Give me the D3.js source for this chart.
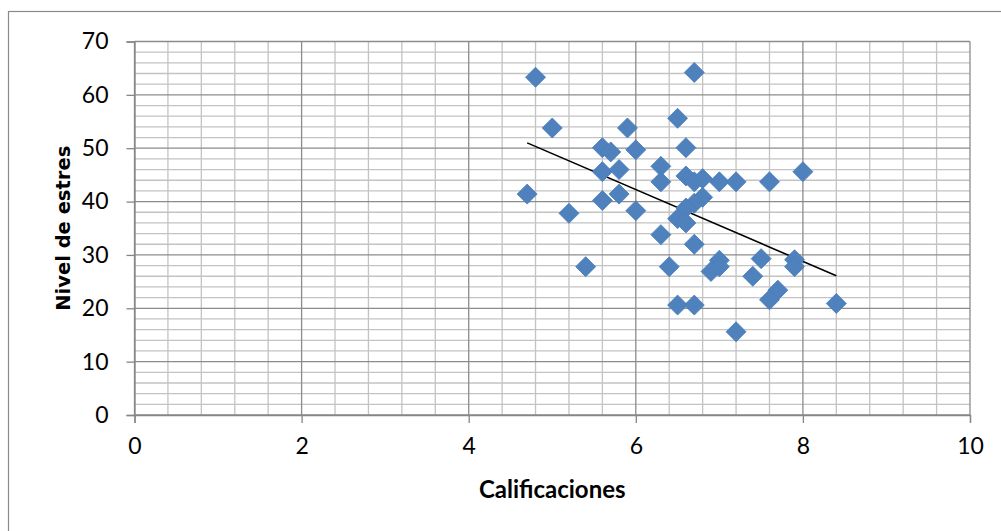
<!DOCTYPE html>
<html>
<head>
<meta charset="utf-8">
<script src="https://cdn.jsdelivr.net/npm/d3@7/dist/d3.min.js"></script>
<style>
  html, body { margin: 0; padding: 0; background: #ffffff; }
  svg { display: block; }
</style>
</head>
<body>
<svg id="chart" width="1001" height="531"></svg>
<script>
// Calificaciones (x) and nivel de estrés (y) for each student
const calificaciones = [
  4.8, 6.7, 5.0, 5.9, 6.5, 5.6, 5.7, 6.0, 6.6, 4.7,
  5.6, 5.8, 6.3, 6.3, 6.6, 6.7, 6.8, 7.0, 7.2, 7.6,
  8.0, 5.6, 5.8, 6.0, 5.2, 6.8, 6.7, 6.6, 6.5, 6.6,
  6.3, 6.7, 5.4, 6.4, 7.0, 7.0, 6.9, 7.4, 7.5, 7.9,
  7.9, 7.7, 7.6, 6.5, 6.7, 8.4, 7.2
];
const nivelEstres = [
  63.3, 64.2, 53.8, 53.8, 55.6, 50.1, 49.3, 49.7, 50.1, 41.4,
  45.6, 46.0, 46.6, 43.7, 44.8, 43.7, 44.3, 43.7, 43.7, 43.7,
  45.6, 40.2, 41.4, 38.3, 37.8, 40.8, 39.7, 38.8, 36.8, 36.0,
  33.8, 32.0, 27.8, 27.8, 29.0, 27.8, 26.9, 26.0, 29.3, 29.1,
  27.8, 23.4, 21.6, 20.6, 20.6, 20.9, 15.6
];
const xTicks = [0, 2, 4, 6, 8, 10];
const yTicks = [0, 10, 20, 30, 40, 50, 60, 70];
const xMinorStep = 0.4;
const yMinorStep = 2;
const xTitle = "Calificaciones";
const yTitle = "Nivel de estres";

const svg = d3.select("#chart");

// outer chart frame
svg.append("rect")
  .attr("x", 8.5).attr("y", 11.5)
  .attr("width", 1100).attr("height", 600)
  .attr("fill", "none").attr("stroke", "#8a8a8a").attr("stroke-width", 1.2);

const plot = { left: 134.5, right: 970, top: 41.5, bottom: 415 };
const x = d3.scaleLinear().domain([0, 10]).range([plot.left, plot.right]);
const y = d3.scaleLinear().domain([0, 70]).range([plot.bottom, plot.top]);

const grid = svg.append("g");

// minor gridlines
const xMinor = d3.range(0, 10 + 1e-9, xMinorStep).filter(v => Math.abs(v / 2 - Math.round(v / 2)) > 1e-6);
const yMinor = d3.range(0, 70 + 1e-9, yMinorStep).filter(v => v % 10 !== 0);
grid.selectAll(".vx").data(xMinor).join("line")
  .attr("x1", d => x(d)).attr("x2", d => x(d))
  .attr("y1", plot.top).attr("y2", plot.bottom)
  .attr("stroke", "#c3c3c3").attr("stroke-width", 1.3);
grid.selectAll(".hy").data(yMinor).join("line")
  .attr("x1", plot.left).attr("x2", plot.right)
  .attr("y1", d => y(d)).attr("y2", d => y(d))
  .attr("stroke", "#c3c3c3").attr("stroke-width", 1.3);

// major gridlines
grid.selectAll(".mx").data(xTicks).join("line")
  .attr("x1", d => x(d)).attr("x2", d => x(d))
  .attr("y1", plot.top).attr("y2", plot.bottom)
  .attr("stroke", "#8c8c8c").attr("stroke-width", 1.3);
grid.selectAll(".my").data(yTicks).join("line")
  .attr("x1", plot.left).attr("x2", plot.right)
  .attr("y1", d => y(d)).attr("y2", d => y(d))
  .attr("stroke", "#8c8c8c").attr("stroke-width", 1.3);

// axes
const xAxis = d3.axisBottom(x).tickValues(xTicks).tickSize(8).tickPadding(15).tickFormat(d3.format("d"));
const yAxis = d3.axisLeft(y).tickValues(yTicks).tickSize(8).tickPadding(18).tickFormat(d3.format("d"));

const gx = svg.append("g").attr("transform", `translate(0,${plot.bottom})`).call(xAxis);
const gy = svg.append("g").attr("transform", `translate(${plot.left},0)`).call(yAxis);
[gx, gy].forEach(g => {
  g.select(".domain").attr("stroke", "#868686").attr("stroke-width", 1.3);
  g.selectAll(".tick line").attr("stroke", "#868686").attr("stroke-width", 1.3);
  g.selectAll(".tick text")
    .attr("fill", "#000")
    .style("font-family", "Lato, 'Open Sans', sans-serif")
    .style("font-size", "23px");
});
gx.selectAll(".tick text").attr("dy", "0.71em");

// linear trend line (least squares over the points)
const pts = calificaciones.map((c, i) => ({ c, e: nivelEstres[i] }));
const mx = d3.mean(pts, d => d.c), my = d3.mean(pts, d => d.e);
const slope = d3.sum(pts, d => (d.c - mx) * (d.e - my)) / d3.sum(pts, d => (d.c - mx) ** 2);
const icpt = my - slope * mx;
const [cMin, cMax] = d3.extent(calificaciones);
svg.append("line")
  .attr("x1", x(cMin)).attr("y1", y(icpt + slope * cMin))
  .attr("x2", x(cMax)).attr("y2", y(icpt + slope * cMax))
  .attr("stroke", "#000").attr("stroke-width", 1.6);

// diamond markers
const diamond = d3.symbol().type(d3.symbolSquare).size(200);
svg.append("g").selectAll("path").data(pts).join("path")
  .attr("d", diamond)
  .attr("transform", d => `translate(${x(d.c)},${y(d.e)}) rotate(45)`)
  .attr("fill", "#4f81bd")
  .attr("stroke", "#4a7ebb")
  .attr("stroke-width", 0.8);

// axis titles
svg.append("text")
  .attr("x", (plot.left + plot.right) / 2).attr("y", 498)
  .attr("text-anchor", "middle")
  .style("font-family", "Lato, 'Open Sans', sans-serif")
  .style("font-weight", "bold").style("font-size", "24px")
  .text(xTitle);

svg.append("text")
  .attr("transform", `translate(70,${(plot.top + plot.bottom) / 2}) rotate(-90)`)
  .attr("text-anchor", "middle")
  .style("font-family", "'DejaVu Sans', sans-serif")
  .style("font-weight", "bold").style("font-size", "19.5px")
  .text(yTitle);
</script>
</body>
</html>
